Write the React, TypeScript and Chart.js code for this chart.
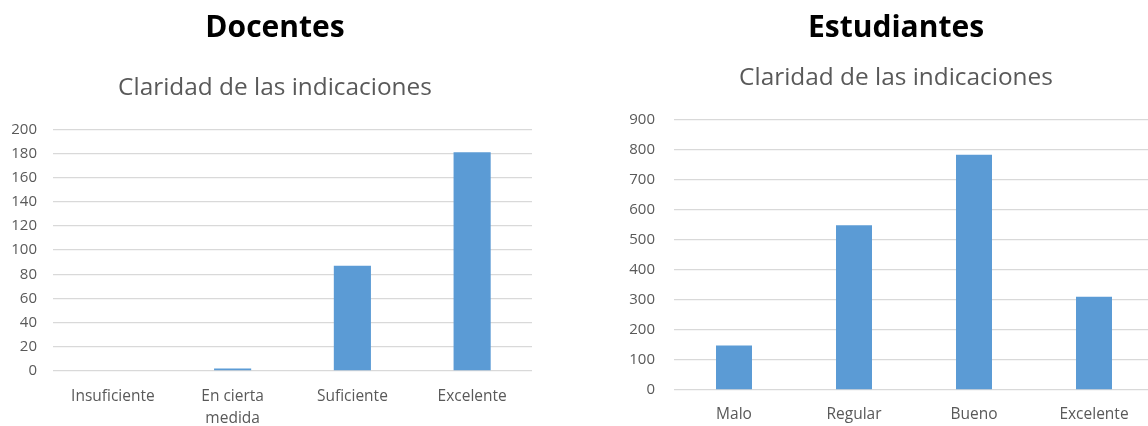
import React, { useEffect, useRef } from "react";
import { Chart, registerables } from "chart.js";

Chart.register(...registerables);

const docentesCategories: (string | string[])[] = ["Insuficiente", ["En cierta", "medida"], "Suficiente", "Excelente"];
const docentesValues = [0, 2, 87, 181];
const docentesMax = 200;
const docentesStep = 20;

const estudiantesCategories: string[] = ["Malo", "Regular", "Bueno", "Excelente"];
const estudiantesValues = [148, 548, 782, 310];
const estudiantesMax = 900;
const estudiantesStep = 100;

const chartTitle = "Claridad de las indicaciones";
const FONT = "'Open Sans', Lato, sans-serif";
const BAR = "#5B9BD5";
const GRID = "#D9D9D9";
const TEXT = "#595959";

type Props = {
  heading: string;
  labels: (string | string[])[];
  values: number[];
  max: number;
  step: number;
  left: number;
  width: number;
  yAxisWidth: number;
  yPad: number;
  rightSpace: number;
  xAxisHeight: number;
  subTop: number;
  subBottom: number;
  xPad: number;
  barPct: number;
};

function BarChart(p: Props) {
  const ref = useRef<HTMLCanvasElement | null>(null);
  useEffect(() => {
    if (!ref.current) return;
    const chart = new Chart(ref.current, {
      type: "bar",
      data: {
        labels: p.labels as any,
        datasets: [
          {
            data: p.values,
            backgroundColor: BAR,
            borderWidth: 0,
            barPercentage: p.barPct,
            categoryPercentage: 1,
          },
        ],
      },
      options: {
        animation: false,
        responsive: false,
        maintainAspectRatio: false,
        layout: { padding: 0 },
        plugins: {
          legend: { display: false },
          tooltip: { enabled: false },
          title: {
            display: true,
            text: p.heading,
            color: "#000000",
            font: { family: FONT, size: 30, weight: "bold", lineHeight: 1.2 },
            padding: { top: 10, bottom: 0 },
          },
          subtitle: {
            display: true,
            text: chartTitle,
            color: TEXT,
            font: { family: FONT, size: 24.4, weight: "normal", lineHeight: 1.2 },
            padding: { top: p.subTop, bottom: p.subBottom },
          },
        },
        scales: {
          x: {
            grid: { display: false, drawTicks: false },
            border: { display: false },
            ticks: {
              color: TEXT,
              font: { family: FONT, size: 15.5, lineHeight: 1.45 },
              padding: p.xPad,
              maxRotation: 0,
              autoSkip: false,
            },
            afterFit: (scale: any) => {
              scale.height = p.xAxisHeight;
            },
          },
          y: {
            min: 0,
            max: p.max,
            grid: { color: GRID, lineWidth: 1.3, drawTicks: false },
            border: { display: false },
            ticks: {
              stepSize: p.step,
              color: TEXT,
              font: { family: FONT, size: 15 },
              padding: p.yPad,
            },
            afterFit: (scale: any) => {
              scale.width = p.yAxisWidth;
            },
          },
          spacer: {
            type: "linear",
            position: "right",
            display: true,
            grid: { display: false, drawTicks: false },
            border: { display: false },
            ticks: { display: false },
            afterFit: (scale: any) => {
              scale.width = p.rightSpace;
            },
          },
        },
      },
    });
    return () => chart.destroy();
  }, []);
  return (
    <canvas
      ref={ref}
      width={p.width}
      height={426}
      style={{ position: "absolute", left: p.left, top: 0, width: p.width, height: 426 }}
    />
  );
}

export default function App() {
  return (
    <div
      style={{
        position: "fixed",
        left: 0,
        top: 0,
        width: 1148,
        height: 426,
        overflow: "hidden",
        background: "#ffffff",
      }}
    >
      <BarChart
        heading="Docentes"
        labels={docentesCategories}
        values={docentesValues}
        max={docentesMax}
        step={docentesStep}
        left={0}
        width={550}
        yAxisWidth={53}
        yPad={16}
        rightSpace={18}
        xAxisHeight={55}
        subTop={27}
        subBottom={27}
        xPad={14}
        barPct={0.31}
      />
      <BarChart
        heading="Estudiantes"
        labels={estudiantesCategories}
        values={estudiantesValues}
        max={estudiantesMax}
        step={estudiantesStep}
        left={590}
        width={612}
        yAxisWidth={84}
        yPad={19}
        rightSpace={48}
        xAxisHeight={36}
        subTop={17}
        subBottom={27}
        xPad={13}
        barPct={0.3}
      />
    </div>
  );
}
